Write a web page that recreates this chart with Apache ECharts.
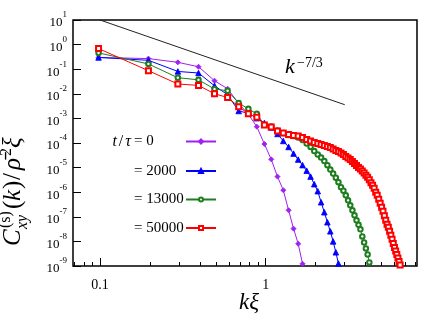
<!DOCTYPE html>
<html><head><meta charset="utf-8">
<script src="https://cdn.jsdelivr.net/npm/echarts@6/dist/echarts.min.js"></script>
<style>html,body{margin:0;padding:0;background:#fff}#c{width:448px;height:316px}</style>
</head><body><div id="c"></div>
<script>
// k xi values (grid of wavenumbers)
const kx = [0.098,0.196,0.295,0.393,0.491,0.589,0.687,0.786,0.884,0.982,
  1.080,1.178,1.277,1.375,1.473,1.571,1.669,1.768,1.866,1.964,
  2.062,2.160,2.259,2.357,2.455,2.553,2.651,2.749,2.848,2.946,
  3.044,3.142,3.240,3.338,3.436,3.534,3.633,3.731,3.829,3.927,
  4.025,4.123,4.222,4.320,4.418,4.516,4.614,4.712,4.811,4.909,
  5.007,5.105,5.204,5.302,5.400,5.498,5.596,5.694,5.793,5.891,
  5.989,6.087,6.185,6.283,6.381,6.480];
// t/tau = 0
const c0 = [0.30,0.27,0.19,0.126,0.034,0.016,0.0041,0.00146,4.6e-4,9.1e-5,
  2.16e-5,4.3e-6,1.21e-6,1.84e-7,3.3e-8,8.0e-9,1.23e-9];
// t/tau = 2000
const c2000 = [0.30,0.23,0.081,0.070,0.0212,0.0091,0.0020,0.00163,0.00102,6.5e-4,
  4.3e-4,2.33e-4,1.21e-4,6.9e-5,3.7e-5,2.12e-5,1.26e-5,7.5e-6,4.3e-6,2.12e-6,
  1.10e-6,3.9e-7,1.53e-7,6.0e-8,2.56e-8,1.0e-8,3.6e-9,1.26e-9];
// t/tau = 13000
const c13000 = [0.46,0.163,0.045,0.037,0.0156,0.0133,0.0042,0.00244,0.00153,5.5e-4,
  4.7e-4,3.24e-4,2.56e-4,2.12e-4,1.93e-4,1.68e-4,1.32e-4,9.5e-5,6.9e-5,4.7e-5,
  3.4e-5,2.56e-5,1.84e-5,1.26e-5,8.3e-6,5.7e-6,3.91e-6,2.56e-6,1.6e-6,1.15e-6,
  7.5e-7,4.7e-7,2.94e-7,1.84e-7,1.15e-7,7.2e-8,4.7e-8,3.09e-8,1.6e-8,9.1e-9,
  5.2e-9,2.94e-9,1.39e-9];
// t/tau = 50000
const c50000 = [0.69,0.087,0.025,0.022,0.010,0.0071,0.0030,0.00153,0.00112,5.43e-4,
  4.5e-4,3.09e-4,2.56e-4,2.22e-4,2.02e-4,1.93e-4,1.68e-4,1.39e-4,1.21e-4,1.05e-4,
  9.5e-5,8.7e-5,7.9e-5,7.2e-5,6.5e-5,5.7e-5,4.94e-5,4.5e-5,3.91e-5,3.4e-5,
  2.81e-5,2.44e-5,2.12e-5,1.76e-5,1.46e-5,1.21e-5,1.0e-5,8.7e-6,7.2e-6,5.97e-6,
  4.94e-6,4.09e-6,3.24e-6,2.44e-6,1.93e-6,1.46e-6,1.0e-6,7.5e-7,5.2e-7,3.56e-7,
  2.44e-7,1.68e-7,1.1e-7,7.2e-8,4.94e-8,3.72e-8,2.56e-8,1.76e-8,1.21e-8,8.3e-9,
  5.7e-9,4.1e-9,2.94e-9,2.12e-9,1.53e-9,1.1e-9];
// reference power law k^{-7/3}
const refK = [0.1, 3.0];
const refC = [10, 0.0036];
const seriesNames = ['0','2000','13000','50000'];
const seriesColors = ['#a020f0','#0000ff','#1e7d1e','#ff0000'];
const xMajor = [0.1, 1];
const xMinor = [0.07,0.08,0.09,0.2,0.3,0.4,0.5,0.6,0.7,0.8,0.9,2,3,4,5,6,7,8];
const yMajor = [1e-9,1e-8,1e-7,1e-6,1e-5,1e-4,1e-3,1e-2,1e-1,1,10];

const SERIF = '"Liberation Serif", "DejaVu Serif", serif';
const dataSets = [c0, c2000, c13000, c50000];
const symbols = ['diamond','triangle','emptyCircle','emptyRect'];
const symSizes = [5, 5.5, 4.5, 5];
const pair = (arr) => arr.map((v,i) => [kx[i], v]);

const XMIN = 0.0687, XMAX = 8.19, YMIN = 1e-9, YMAX = 10;

const series = dataSets.map((d, i) => ({
  name: seriesNames[i], type: 'line', xAxisIndex: 0, yAxisIndex: 0,
  data: pair(d), symbol: symbols[i], symbolSize: symSizes[i],
  lineStyle: {color: seriesColors[i], width: 1},
  itemStyle: {color: seriesColors[i], borderColor: seriesColors[i], borderWidth: 0.9},
  emphasis: {disabled: true}, z: 3 + i
}));
series.unshift({
  name: 'ref', type: 'line', data: refK.map((k,i)=>[k, refC[i]]), symbol: 'none',
  lineStyle: {color: '#222', width: 1}, z: 2, silent: true
});

const legendRows = [142, 171.5, 200, 228.5];
const legends = seriesNames.map((n, i) => ({
  data: [n], left: 134, top: legendRows[i] - 8, padding: 0, align: 'right',
  itemWidth: 30, itemHeight: 5, selectedMode: false,
  formatter: (name) => '{b|= ' + name + '}',
  textStyle: {rich: {b: {width: 47, align: 'left', fontSize: 15, lineHeight: 16,
    fontFamily: SERIF, color: '#000'}}}
}));

const T = (x, y, text, size, italic) => ({type: 'text', x: x, y: y, style: {text: text,
  fontFamily: SERIF, fontStyle: italic ? 'italic' : 'normal', fontSize: size, fill: '#000',
  align: 'left', verticalAlign: 'bottom'}});

const chart = echarts.init(document.getElementById('c'), null, {renderer: 'canvas'});
chart.setOption({
  animation: false,
  backgroundColor: '#fff',
  grid: {left: 73, top: 20, width: 344, height: 246, show: true,
    borderColor: '#000', borderWidth: 1.5, backgroundColor: 'transparent'},
  legend: legends,
  xAxis: [{
    type: 'log', logBase: 10, min: XMIN, max: XMAX, position: 'bottom',
    axisLine: {show: false}, splitLine: {show: false},
    axisTick: {show: true, inside: true, length: 8, customValues: xMajor, lineStyle: {color: '#000', width: 1}},
    axisLabel: {customValues: xMajor, margin: 12, formatter: (v) => String(v),
      fontFamily: SERIF, fontSize: 14, color: '#000'}
  }, {
    type: 'log', logBase: 10, min: XMIN, max: XMAX, position: 'bottom',
    axisLine: {show: false}, splitLine: {show: false},
    axisTick: {show: true, inside: true, length: 4, customValues: xMinor, lineStyle: {color: '#000', width: 1}},
    axisLabel: {show: false}
  }],
  yAxis: {
    type: 'log', logBase: 10, min: YMIN, max: YMAX,
    axisLine: {show: false}, splitLine: {show: false},
    axisTick: {show: true, inside: true, length: 8, customValues: yMajor, lineStyle: {color: '#000', width: 1}},
    axisLabel: {customValues: yMajor, margin: 6,
      formatter: (v) => '{b|10}{s|' + Math.round(Math.log10(v)) + '}',
      rich: {
        b: {fontFamily: SERIF, fontSize: 13, color: '#000', padding: [6,0,0,0]},
        s: {fontFamily: SERIF, fontSize: 9, color: '#000', verticalAlign: 'top'}
      }}
  },
  series: series,
  graphic: [
    // legend prefix t/tau
    {type: 'text', x: 131, y: 142, style: {text: '{i|t}{n|/}{j|τ}', align: 'right', verticalAlign: 'middle',
      rich: {i: {fontFamily: SERIF, fontStyle: 'italic', fontSize: 16, fill: '#000', padding: [0,2,0,0]},
             j: {fontFamily: SERIF, fontStyle: 'italic', fontSize: 16, fill: '#000', padding: [0,0,0,2]},
             n: {fontFamily: SERIF, fontSize: 16, fill: '#000'}}}},
    // k^{-7/3}
    T(285, 78, 'k', 22, true),
    {type: 'text', x: 297, y: 56, style: {text: '−7/3', fontFamily: SERIF, fontSize: 14,
      fill: '#000', align: 'left', verticalAlign: 'top'}},
    // x axis title
    {type: 'text', x: 249, y: 303, style: {text: 'kξ', fontFamily: SERIF, fontStyle: 'italic', fontSize: 23,
      fill: '#000', align: 'center', verticalAlign: 'middle'}},
    // y axis title (rotated, reads bottom to top)
    {type: 'group', x: 26, y: 246, rotation: Math.PI / 2, children: [
      T(0, 0, 'C', 25, true),
      T(18, -12, '(s)', 16, false),
      T(17, 5, 'xy', 16, true),
      T(37, 0, '(', 25, false),
      T(45, 0, 'k', 25, true),
      T(57, 0, ')', 25, false),
      T(66, 0, '/', 25, false),
      T(76, 0, 'ρ̄', 25, true),
      T(90, -11, '2', 16, false),
      T(98, 0, 'ξ', 25, true)
    ]}
  ]
});
</script>
</body></html>
